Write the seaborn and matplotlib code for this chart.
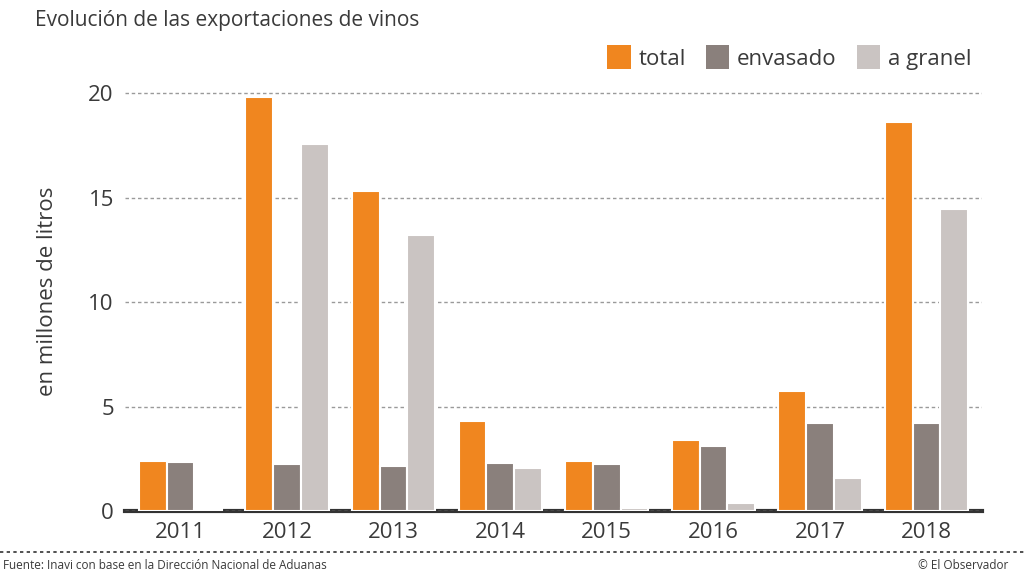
import matplotlib
matplotlib.use("Agg")
import matplotlib.pyplot as plt
from matplotlib.lines import Line2D
from matplotlib.patches import Patch
import seaborn as sns
import pandas as pd

years = ["2011", "2012", "2013", "2014", "2015", "2016", "2017", "2018"]
total = [2.4, 19.8, 15.3, 4.3, 2.4, 3.4, 5.75, 18.6]
envasado = [2.35, 2.25, 2.15, 2.3, 2.25, 3.1, 4.2, 4.2]
granel = [0.12, 17.55, 13.2, 2.05, 0.15, 0.38, 1.6, 14.45]
series = ["total", "envasado", "a granel"]
colors = ["#F0861F", "#8A807C", "#CAC4C2"]

df = pd.DataFrame({"year": years * 3,
                   "serie": [s for s in series for _ in years],
                   "valor": total + envasado + granel})

sns.set_theme(style="white")
plt.rcParams["font.family"] = ["Liberation Sans Narrow", "Open Sans", "DejaVu Sans"]
txt = "#3a3a3a"

fig = plt.figure(figsize=(10.24, 5.75), dpi=100)
ax = fig.add_axes([0.122, 0.111, 0.837, 0.7635])

sns.barplot(data=df, x="year", y="valor", hue="serie", palette=colors,
            width=0.78, edgecolor="white", linewidth=1.5, saturation=1,
            legend=False, ax=ax)

ax.set_ylim(0, 21)
ax.set_xlim(-0.52, 7.52)
ax.set_yticks([0, 5, 10, 15, 20])
ax.yaxis.grid(True, color="#9a9a9a", linestyle=(0, (2.5, 2)), linewidth=1)
ax.set_axisbelow(True)
for s in ["top", "right", "left"]:
    ax.spines[s].set_visible(False)
ax.spines["bottom"].set_color("#333333")
ax.spines["bottom"].set_linewidth(3)
ax.spines["bottom"].set_zorder(0.5)
ax.tick_params(axis="both", length=0, labelsize=16, colors=txt, pad=8)
ax.tick_params(axis="y", pad=8)
ax.set_xlabel("")
ax.set_ylabel("en millones de litros", fontsize=16, color=txt, labelpad=22)

fig.text(0.034, 0.965, "Evolución de las exportaciones de vinos", fontsize=15,
         color=txt, va="center", ha="left")

handles = [Patch(facecolor=c, edgecolor="none") for c in colors]
fig.legend(handles, series, loc="center right", bbox_to_anchor=(0.968, 0.9),
           ncol=3, frameon=False, fontsize=16, handlelength=1.05, handleheight=1.3,
           handletextpad=0.35, columnspacing=0.9, labelcolor=txt)

fig.add_artist(Line2D([0, 1], [0.04, 0.04], color="#333333", linestyle=(0, (2, 2)),
                      linewidth=1.2))
fig.text(0.003, 0.017, "Fuente: Inavi con base en la Dirección Nacional de Aduanas",
         fontsize=8.5, color=txt, va="center", ha="left")
fig.text(0.985, 0.017, "© El Observador", fontsize=8.5, color=txt,
         va="center", ha="right")

fig.savefig("out.png", dpi=100)
